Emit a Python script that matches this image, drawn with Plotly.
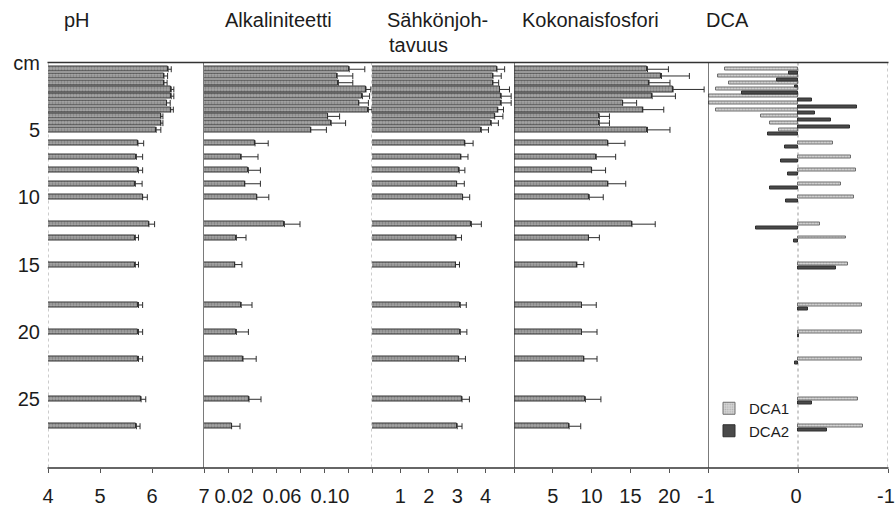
import plotly.graph_objects as go

# ---------------- data ----------------
depths = [0.5, 1, 1.5, 2, 2.5, 3, 3.5, 4, 4.5, 5, 6, 7, 8, 9, 10, 12, 13, 15, 18, 20, 22, 25, 27]

ph = [6.31, 6.23, 6.23, 6.37, 6.37, 6.28, 6.36, 6.17, 6.17, 6.08,
      5.73, 5.70, 5.74, 5.68, 5.82, 5.94, 5.68, 5.68, 5.74, 5.74, 5.74, 5.79, 5.70]
ph_err = [0.06, 0.07, 0.06, 0.05, 0.05, 0.07, 0.05, 0.04, 0.04, 0.09,
          0.11, 0.12, 0.08, 0.13, 0.09, 0.11, 0.06, 0.06, 0.08, 0.08, 0.08, 0.09, 0.07]

alk = [0.121, 0.111, 0.112, 0.135, 0.132, 0.129, 0.137, 0.103, 0.106, 0.089,
       0.0425, 0.031, 0.037, 0.034, 0.044, 0.067, 0.027, 0.0256, 0.031, 0.027, 0.0325, 0.0375, 0.023]
alk_err = [0.013, 0.013, 0.012, 0.004, 0.006, 0.008, 0.003, 0.010, 0.012, 0.013,
           0.011, 0.014, 0.010, 0.013, 0.010, 0.013, 0.008, 0.006, 0.009, 0.010, 0.011, 0.010, 0.007]

ec = [4.40, 4.26, 4.26, 4.49, 4.55, 4.55, 4.43, 4.32, 4.20, 3.85,
      3.27, 3.13, 3.07, 2.98, 3.19, 3.50, 2.96, 2.94, 3.11, 3.11, 3.05, 3.17, 3.00]
ec_err = [0.27, 0.29, 0.20, 0.35, 0.35, 0.35, 0.20, 0.29, 0.25, 0.25,
          0.29, 0.25, 0.20, 0.27, 0.25, 0.35, 0.19, 0.14, 0.21, 0.23, 0.24, 0.26, 0.17]

tp = [17.2, 19.0, 17.4, 20.5, 17.8, 14.0, 16.6, 11.0, 11.0, 17.2,
      12.1, 10.6, 10.0, 12.1, 9.7, 15.2, 9.6, 8.1, 8.7, 8.7, 9.0, 9.2, 7.1]
tp_err = [2.7, 3.6, 2.7, 4.0, 3.0, 1.8, 2.7, 1.3, 1.3, 2.9,
          2.2, 2.5, 1.8, 2.3, 1.8, 3.0, 1.4, 0.9, 1.9, 2.0, 1.7, 2.0, 1.5]

dca1 = [-0.81, -0.89, -0.77, -0.91, -0.99, -0.99, -0.91, -0.41, -0.31, -0.21,
        0.39, 0.59, 0.64, 0.48, 0.62, 0.24, 0.53, 0.55, 0.71, 0.71, 0.71, 0.67, 0.72]
dca2 = [-0.10, -0.23, -0.03, -0.62, 0.16, 0.66, 0.19, 0.37, 0.58, -0.33,
        -0.14, -0.19, -0.11, -0.31, -0.13, -0.47, -0.04, 0.42, 0.11, 0.01, -0.03, 0.15, 0.32]

titles = ["pH", "Alkaliniteetti", "Sähkönjoh-", "tavuus", "Kokonaisfosfori", "DCA"]
ytick_vals = [0, 5, 10, 15, 20, 25]
ytick_text = ["cm", "5", "10", "15", "20", "25"]

# ---------------- layout helpers ----------------
W, H = 895, 506
def px(x): return x / W
def py(y): return 1 - y / H

FONT = "Arial, Liberation Sans, sans-serif"
TXT = "#1c1c1c"

bar_marker = dict(color="#8e8e8e", line=dict(color="#333333", width=1),
                  pattern=dict(shape=".", fgcolor="#505050", bgcolor="#a6a6a6", size=3, solidity=0.4))
err_style = dict(type="data", symmetric=False, color="#2e2e2e", thickness=1, width=3)

fig = go.Figure()
for ax, vals, errs in [("x", ph, ph_err), ("x2", alk, alk_err), ("x3", ec, ec_err), ("x4", tp, tp_err)]:
    fig.add_trace(go.Bar(
        y=depths, x=vals, orientation="h", xaxis=ax, yaxis="y", width=0.38,
        marker=bar_marker, showlegend=False,
        error_x=dict(array=errs, arrayminus=[0] * len(errs), **err_style)))

fig.add_trace(go.Bar(y=depths, x=dca1, orientation="h", xaxis="x5", yaxis="y",
                     width=0.22, offset=-0.12, name="DCA1",
                     marker=dict(color="#cfcfcf", line=dict(color="#6e6e6e", width=1),
                                 pattern=dict(shape=".", fgcolor="#888888", bgcolor="#d6d6d6", size=3, solidity=0.3))))
fig.add_trace(go.Bar(y=depths, x=dca2, orientation="h", xaxis="x5", yaxis="y",
                     width=0.22, offset=0.17, name="DCA2",
                     marker=dict(color="#4a4a4a", line=dict(color="#2e2e2e", width=1))))

xcommon = dict(anchor="y", showgrid=False, zeroline=False, showline=False, automargin=False,
               ticks="outside", ticklen=4, tickcolor="#555", tickwidth=1,
               tickfont=dict(family=FONT, size=20, color=TXT), ticklabelstandoff=6,
               ticklabeloverflow="allow")

fig.update_layout(
    width=W, height=H, margin=dict(l=0, r=0, t=0, b=0, autoexpand=False),
    paper_bgcolor="white", plot_bgcolor="white",
    barmode="overlay", bargap=0,
    font=dict(family=FONT, color=TXT),
    yaxis=dict(domain=[py(468), py(62.5)], range=[30.1, 0], anchor="x", automargin=False,
               tickvals=ytick_vals, ticktext=ytick_text, showgrid=False, zeroline=False,
               showline=False, ticks="", ticklabelstandoff=7,
               tickfont=dict(family=FONT, size=20, color=TXT)),
    xaxis=dict(domain=[px(48), px(204)], range=[4, 7], tickvals=[4, 5, 6, 7], **xcommon),
    xaxis2=dict(domain=[px(204), px(372)], range=[0, 0.14],
                tickvals=[0.02, 0.04, 0.06, 0.08, 0.10, 0.12, 0.14],
                ticktext=["0.02", "", "0.06", "", "0.10", "", ""], ticklabelshift=6, **xcommon),
    xaxis3=dict(domain=[px(372), px(514)], range=[0, 5], tickvals=[1, 2, 3, 4, 5],
                ticktext=["1", "2", "3", "4", ""], **xcommon),
    xaxis4=dict(domain=[px(514), px(708)], range=[0, 25], tickvals=[5, 10, 15, 20, 25],
                ticktext=["5", "10", "15", "20", ""], **xcommon),
    xaxis5=dict(domain=[px(708), px(888)], range=[-1, 1], tickvals=[-1, 0, 1],
                ticktext=["-1", "0", "-1"], ticklabelshift=-2, **xcommon),
    legend=dict(x=px(709), y=py(392), xanchor="left", yanchor="top",
                bgcolor="rgba(0,0,0,0)", font=dict(family=FONT, size=15, color=TXT),
                traceorder="normal", tracegroupgap=0, itemwidth=30),
)

# frame lines
def hline(y, w=1.5):
    fig.add_shape(type="line", xref="paper", yref="paper", x0=px(47.5), x1=px(888.5),
                  y0=py(y), y1=py(y), line=dict(color="#333", width=w), layer="above")
def vline(xref, x, solid):
    fig.add_shape(type="line", xref=xref, yref="y", x0=x, x1=x, y0=0, y1=30.1,
                  line=dict(color="#333" if solid else "#999", width=1.3 if solid else 1,
                            dash="solid" if solid else "dot"),
                  layer="above" if solid else "below")
vline("x", 4, False)
vline("x", 7, True)
vline("x2", 0.14, False)
vline("x4", 0, True)
vline("x5", -1, True)
vline("x5", 0, False)
vline("x5", 1, False)
hline(62.5)
hline(468)

# titles
for text, x, y in [(titles[0], 77, 20), (titles[1], 278, 20), (titles[4], 590, 20), (titles[5], 727, 20)]:
    fig.add_annotation(text=text, xref="paper", yref="paper", x=px(x), y=py(y),
                       xanchor="center", yanchor="middle", showarrow=False,
                       font=dict(family=FONT, size=20, color=TXT))
for text, x, y in [(titles[2], 385, 20), (titles[3], 387, 45)]:
    fig.add_annotation(text=text, xref="paper", yref="paper", x=px(x), y=py(y),
                       xanchor="left", yanchor="middle", showarrow=False,
                       font=dict(family=FONT, size=20, color=TXT))

fig.write_html("out.html")
